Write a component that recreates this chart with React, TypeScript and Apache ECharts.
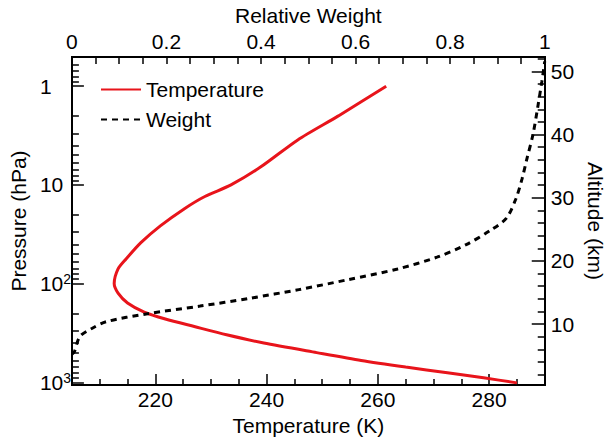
import React, { useEffect, useRef } from "react";
import * as echarts from "echarts";

// ---- data ----
const tempPressure = [1013, 900, 800, 700, 600, 500, 400, 330, 272, 228, 194, 157, 125, 100, 71, 56.6, 38.5, 26, 17.3, 13.1, 10, 6.6, 3.5, 2.0, 1.0];
const tempValues = [285, 279, 272.5, 265, 257, 249, 239.5, 232.8, 227, 221.8, 218, 215, 213.3, 212.6, 213.3, 214.7, 217.4, 220.9, 225.3, 228.9, 233.6, 238.9, 245.6, 252.9, 261.5];

const weightPressure = [520, 493, 343, 285, 243, 203, 169, 141, 115, 91, 71, 54, 40, 28.5, 21.7, 13.8, 8.7, 5.5, 3.1, 1.65, 0.89, 0.56];
const weightValues = [0, 0.005, 0.017, 0.042, 0.073, 0.157, 0.271, 0.376, 0.48, 0.585, 0.689, 0.772, 0.835, 0.887, 0.919, 0.939, 0.952, 0.962, 0.975, 0.985, 0.994, 1.0];

const pressureMajor = [1, 10, 100, 1000];
const pressureMinor = [0.6, 0.7, 0.8, 0.9, 2, 3, 4, 5, 6, 7, 8, 9, 20, 30, 40, 50, 60, 70, 80, 90, 200, 300, 400, 500, 600, 700, 800, 900];
const tempMajor = [220, 240, 260, 280];
const tempMinor = [210, 215, 225, 230, 235, 245, 250, 255, 265, 270, 275, 285];
const weightMajor = [0, 0.2, 0.4, 0.6, 0.8, 1];
const weightMinor = [0.05, 0.1, 0.15, 0.25, 0.3, 0.35, 0.45, 0.5, 0.55, 0.65, 0.7, 0.75, 0.85, 0.9, 0.95];
const altMajor = [10, 20, 30, 40, 50];
const altMinor = [2, 4, 6, 8, 12, 14, 16, 18, 22, 24, 26, 28, 32, 34, 36, 38, 42, 44, 46, 48, 52];

const FONT = "Liberation Sans, Arial, sans-serif";
const FS = 21;
const AX = { lineStyle: { color: "#000", width: 2 } };

export default function App() {
  const ref = useRef<HTMLDivElement>(null);
  useEffect(() => {
    if (!ref.current) return;
    const chart = echarts.init(ref.current, undefined, { renderer: "svg" });
    const tMin = 205, tMax = 290;
    const pMin = 0.505, pMax = 1067;
    const aMin = 0.35, aMax = 52.3;
    const label = { fontFamily: FONT, fontSize: FS, color: "#000" };
    const nameStyle = { fontFamily: FONT, fontSize: FS, color: "#000" };
    chart.setOption({
      animation: false,
      backgroundColor: "#fff",
      grid: { left: 70, right: 63, top: 55, bottom: 50 },
      legend: {
        left: 95,
        top: 74,
        orient: "vertical",
        itemWidth: 40,
        itemHeight: 14,
        itemGap: 9,
        itemStyle: { opacity: 0, borderWidth: 0 },
        textStyle: { fontFamily: FONT, fontSize: FS, color: "#000" },
        data: ["Temperature", "Weight"],
      },
      xAxis: [
        {
          type: "value", position: "bottom", min: tMin, max: tMax,
          name: "Temperature (K)", nameLocation: "middle", nameGap: 26,
          nameTextStyle: nameStyle,
          axisLine: AX,
          axisTick: { inside: true, length: 11, lineStyle: { color: "#000", width: 1.5 }, customValues: tempMajor },
          axisLabel: { ...label, margin: 4, customValues: tempMajor },
          splitLine: { show: false },
        },
        {
          type: "value", position: "bottom", min: tMin, max: tMax,
          axisLine: AX,
          axisTick: { inside: true, length: 6, lineStyle: { color: "#000", width: 1.5 }, customValues: tempMinor },
          axisLabel: { show: false },
          splitLine: { show: false },
        },
        {
          type: "value", position: "top", min: 0, max: 1,
          name: "Relative Weight", nameLocation: "middle", nameGap: 26,
          nameTextStyle: nameStyle,
          axisLine: AX,
          axisTick: { inside: true, length: 7, lineStyle: { color: "#000", width: 1.5 }, customValues: weightMajor },
          axisLabel: { ...label, margin: 5, customValues: weightMajor, formatter: (v: number) => String(Math.round(v * 10) / 10) },
          splitLine: { show: false },
        },
        {
          type: "value", position: "top", min: 0, max: 1,
          axisLine: AX,
          axisTick: { inside: true, length: 7, lineStyle: { color: "#000", width: 1.5 }, customValues: weightMinor },
          axisLabel: { show: false },
          splitLine: { show: false },
        },
      ],
      yAxis: [
        {
          type: "log", position: "left", min: pMin, max: pMax, inverse: true, logBase: 10,
          name: "Pressure (hPa)", nameLocation: "middle", nameGap: 37,
          nameTextStyle: nameStyle,
          axisLine: AX,
          axisTick: { inside: true, length: 12, lineStyle: { color: "#000", width: 1.5 }, customValues: pressureMajor },
          axisLabel: {
            ...label, margin: 32, align: "left", customValues: pressureMajor,
            formatter: (v: number) => {
              const e = Math.round(Math.log10(v));
              if (e < 2) return "{b|" + String(Math.round(v)) + "}";
              return "{b|10}{s|" + e + "}";
            },
            rich: {
              b: { fontFamily: FONT, fontSize: FS, color: "#000" },
              s: { fontFamily: FONT, fontSize: 14, color: "#000", verticalAlign: "top", padding: [0, 0, 9, 0] },
            },
          },
          splitLine: { show: false },
        },
        {
          type: "log", position: "left", min: pMin, max: pMax, inverse: true, logBase: 10,
          axisLine: AX,
          axisTick: { inside: true, length: 7, lineStyle: { color: "#000", width: 1.5 }, customValues: pressureMinor },
          axisLabel: { show: false },
          splitLine: { show: false },
        },
        {
          type: "value", position: "right", min: aMin, max: aMax,
          name: "Altitude (km)", nameLocation: "middle", nameGap: 36, nameRotate: -90,
          nameTextStyle: nameStyle,
          axisLine: AX,
          axisTick: { inside: true, length: 13, lineStyle: { color: "#000", width: 1.5 }, customValues: altMajor },
          axisLabel: { ...label, margin: 6, customValues: altMajor },
          splitLine: { show: false },
        },
        {
          type: "value", position: "right", min: aMin, max: aMax,
          axisLine: AX,
          axisTick: { inside: true, length: 7, lineStyle: { color: "#000", width: 1.5 }, customValues: altMinor },
          axisLabel: { show: false },
          splitLine: { show: false },
        },
      ],
      series: [
        {
          name: "Temperature",
          type: "line",
          xAxisIndex: 0,
          yAxisIndex: 0,
          symbol: "none",
          smooth: 0.25,
          lineStyle: { color: "#e8141b", width: 3 },
          itemStyle: { color: "#e8141b" },
          data: tempPressure.map((p, i) => [tempValues[i], p]),
        },
        {
          name: "Weight",
          type: "line",
          xAxisIndex: 2,
          yAxisIndex: 0,
          symbol: "none",
          smooth: 0.3,
          lineStyle: { color: "#000", width: 3, type: [6, 5] },
          itemStyle: { color: "#000" },
          data: weightPressure.map((p, i) => [weightValues[i], p]),
        },
      ],
    });
    return () => chart.dispose();
  }, []);
  return <div ref={ref} style={{ position: "fixed", left: 0, top: 0, width: 614, height: 441 }} />;
}
